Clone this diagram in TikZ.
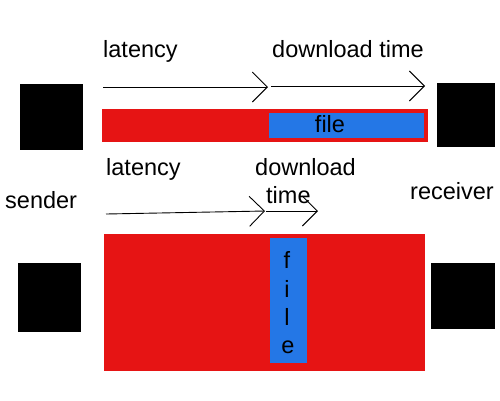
\documentclass[tikz,border=0pt]{standalone}
\usepackage{fontspec}
\setmainfont{Liberation Sans}
\usetikzlibrary{arrows.meta}
\definecolor{barred}{HTML}{E61414}
\definecolor{fileblue}{HTML}{2477E6}
\begin{document}
\begin{tikzpicture}[x=1pt,y=-1pt,
  box/.style={fill=black,draw=none,inner sep=0},
  lbl/.style={inner sep=0,anchor=base west,font=\fontsize{23.5}{28}\selectfont},
  clbl/.style={inner sep=0,anchor=base,font=\fontsize{23.5}{28}\selectfont},
  timearrow/.style={line width=0.9pt,-{Straight Barb[length=15pt,width=30pt,line width=0.9pt]}}]
\useasboundingbox (0,0) rectangle (500,400);
% top section
\fill[barred] (102,109) rectangle (428,142);
\fill[fileblue] (269,113) rectangle (424,138);
\node[clbl] (file1) at (330,132) {file};
\node[box,minimum width=63pt,minimum height=66pt] (s1) at (51.5,117) {};
\node[box,minimum width=58pt,minimum height=64pt] (r1) at (466,115) {};
\node[lbl] (lat1) at (103,57) {latency};
\node[lbl] (dl1) at (272,57) {download time};
\coordinate (a1s) at (103,87);
\coordinate (a1e) at (268,87);
\coordinate (a2s) at (271,86);
\coordinate (a2e) at (425,86);
\draw[timearrow] (a1s) -- (a1e);
\draw[timearrow] (a2s) -- (a2e);
% bottom section
\fill[barred] (104,234) rectangle (425,371);
\fill[fileblue] (270,238) rectangle (307,363);
\node[clbl] (f) at (287,268) {f};
\node[clbl] (i) at (287,297) {i};
\node[clbl] (l) at (287,325) {l};
\node[clbl] (e) at (288,353) {e};
\node[box,minimum width=63pt,minimum height=69pt] (s2) at (49.5,297.5) {};
\node[box,minimum width=64pt,minimum height=66pt] (r2) at (463,296) {};
\node[lbl] (lat2) at (106,175) {latency};
\node[lbl] (dl2) at (255,175) {download};
\node[lbl] (tm2) at (266,203) {time};
\node[lbl] (snd) at (5,208) {sender};
\node[lbl] (rcv) at (410,199) {receiver};
\coordinate (a3s) at (106,214);
\coordinate (a3e) at (265,211);
\coordinate (a4s) at (266,211);
\coordinate (a4e) at (318,211);
\draw[timearrow] (a3s) -- (a3e);
\draw[timearrow] (a4s) -- (a4e);
\end{tikzpicture}
\end{document}
